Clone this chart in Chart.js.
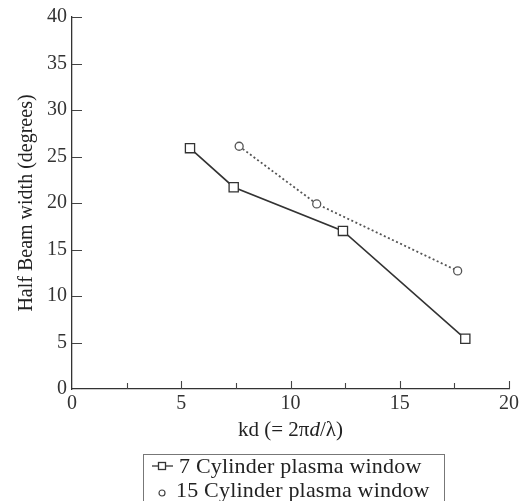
<!DOCTYPE html>
<html>
<head>
<meta charset="utf-8">
<script src="https://cdn.jsdelivr.net/npm/chart.js@4"></script>
<style>
html,body{margin:0;padding:0;background:#fff;overflow:hidden;}
#wrap{position:relative;width:530px;height:501px;}
#xtitle{position:absolute;left:0;width:581px;top:417px;text-align:center;font:21px "Liberation Serif",serif;color:#222;white-space:nowrap;}
#legend{position:absolute;left:143px;top:454px;width:302px;height:70px;border:1px solid #777;box-sizing:border-box;font:22px "Liberation Serif",serif;color:#222;}
.row{position:absolute;white-space:nowrap;line-height:20px;letter-spacing:0.2px;}
#legend svg{position:absolute;}
</style>
</head>
<body>
<div id="wrap">
<canvas id="c" width="530" height="501"></canvas>
<div id="xtitle">kd (= 2π<i>d</i>/λ)</div>
<div id="legend">
  <svg style="left:7px;top:4px" width="24" height="14"><line x1="1" y1="7" x2="22" y2="7" stroke="#333" stroke-width="1.3"/><rect x="7.5" y="3.5" width="7" height="7" fill="#fff" stroke="#333" stroke-width="1.3"/></svg>
  <div class="row" style="left:35px;top:1px;">7 Cylinder plasma window</div>
  <svg style="left:10px;top:30px" width="16" height="16"><circle cx="8" cy="8" r="3" fill="#fff" stroke="#444" stroke-width="1.2"/></svg>
  <div class="row" style="left:32px;top:25px;">15 Cylinder plasma window</div>
</div>
</div>
<script>
const kd7 = [5.4, 7.4, 12.4, 18.0];
const hbw7 = [25.9, 21.7, 17.0, 5.4];
const kd15 = [7.65, 11.2, 17.65];
const hbw15 = [26.1, 19.9, 12.7];
const xTicks = [0, 5, 10, 15, 20];
const yTicks = [0, 5, 10, 15, 20, 25, 30, 35, 40];

const pts = (xs, ys) => xs.map((x, i) => ({x: x, y: ys[i]}));

const inwardTicks = {
  id: 'inwardTicks',
  afterDraw(chart) {
    const ctx = chart.ctx;
    const xs = chart.scales.x, ys = chart.scales.y;
    const area = chart.chartArea;
    ctx.save();
    ctx.strokeStyle = '#444';
    ctx.lineWidth = 1.1;
    ctx.beginPath();
    xs.ticks.forEach(t => {
      if (t.value === 0) return;
      const px = Math.round(xs.getPixelForValue(t.value)) + 0.5;
      const len = xTicks.includes(t.value) ? 8 : 6;
      ctx.moveTo(px, area.bottom);
      ctx.lineTo(px, area.bottom - len);
    });
    ys.ticks.forEach(t => {
      if (t.value === 0) return;
      const py = Math.round(ys.getPixelForValue(t.value)) + 0.5;
      const len = yTicks.includes(t.value) ? 10 : 8;
      ctx.moveTo(area.left, py);
      ctx.lineTo(area.left + len, py);
    });
    ctx.stroke();
    ctx.restore();
  }
};

const serif = '"Liberation Serif", serif';

new Chart(document.getElementById('c'), {
  type: 'scatter',
  data: {
    datasets: [
      {
        label: '7 Cylinder plasma window',
        data: pts(kd7, hbw7),
        showLine: true,
        borderColor: '#333',
        borderWidth: 1.6,
        pointStyle: 'rect',
        pointRadius: 6.5,
        pointBorderWidth: 1.3,
        pointBackgroundColor: '#fff',
        pointBorderColor: '#333'
      },
      {
        label: '15 Cylinder plasma window',
        data: pts(kd15, hbw15),
        showLine: true,
        borderColor: '#555',
        borderWidth: 1.8,
        borderDash: [2, 2.5],
        pointStyle: 'circle',
        pointRadius: 4,
        pointBorderWidth: 1.3,
        pointBackgroundColor: '#fff',
        pointBorderColor: '#555'
      }
    ]
  },
  options: {
    responsive: false,
    animation: false,
    layout: {padding: {left: 0, right: 21, top: 16, bottom: 0}},
    plugins: {legend: {display: false}, tooltip: {enabled: false}},
    scales: {
      x: {
        type: 'linear',
        min: 0, max: 20,
        afterFit(s) { s.height = 112; },
        ticks: {
          stepSize: 2.5,
          padding: 3,
          color: '#333',
          font: {family: serif, size: 20},
          callback: v => xTicks.includes(v) ? String(v) : ''
        },
        grid: {display: true, drawOnChartArea: false, drawTicks: false},
        border: {display: true, color: '#333', width: 1.3}
      },
      y: {
        type: 'linear',
        min: 0, max: 40,
        afterFit(s) { s.width = 72; },
        ticks: {
          stepSize: 2.5,
          padding: 5,
          color: '#333',
          font: {family: serif, size: 20},
          callback: v => yTicks.includes(v) ? String(v) : ''
        },
        grid: {display: true, drawOnChartArea: false, drawTicks: false},
        border: {display: true, color: '#333', width: 1.3},
        title: {
          display: true,
          text: 'Half Beam width (degrees)',
          color: '#222',
          font: {family: serif, size: 20},
          padding: {top: 15, bottom: 0}
        }
      }
    }
  },
  plugins: [inwardTicks]
});
</script>
</body>
</html>
